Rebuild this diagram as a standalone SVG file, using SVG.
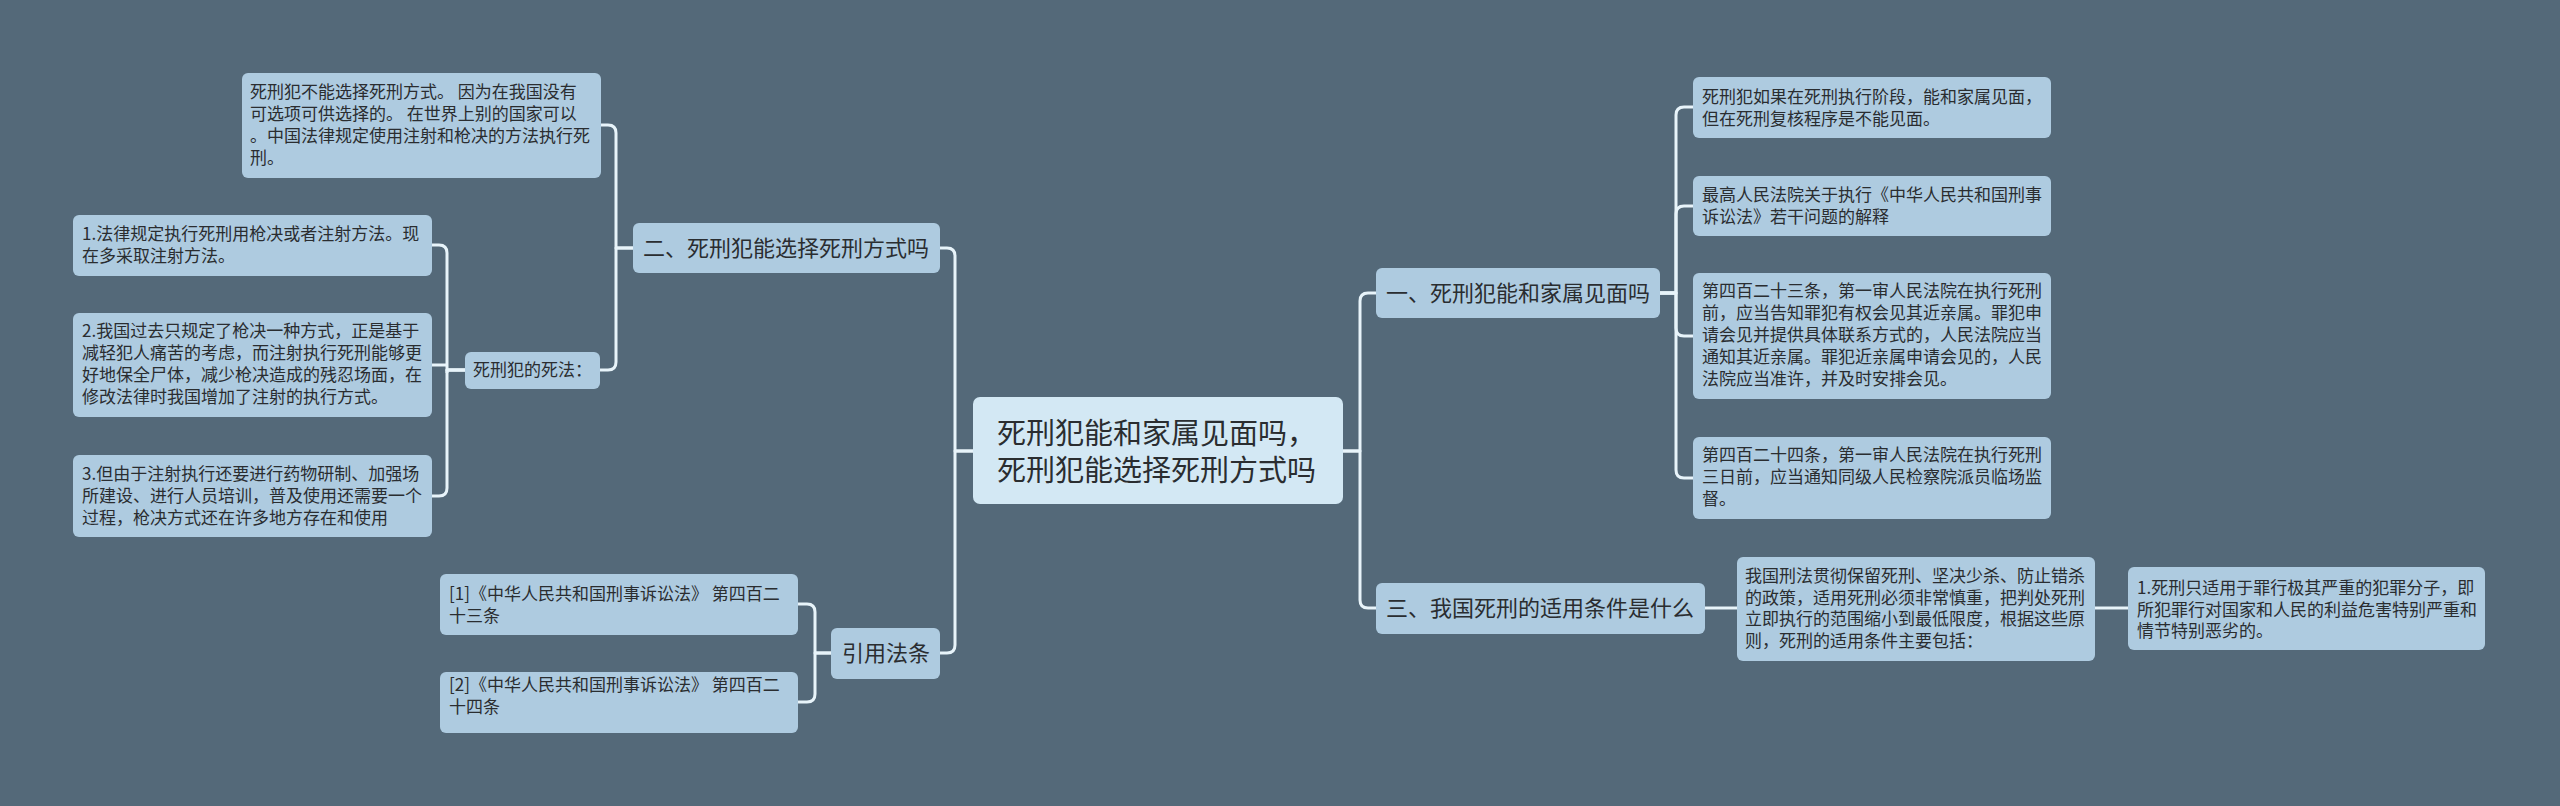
<svg xmlns="http://www.w3.org/2000/svg" width="2560" height="806" viewBox="0 0 2560 806">
<style>
.bg{fill:#546979}
.leaf{fill:#AECBE0}
.root{fill:#D3E8F4}
.t{font-family:"Noto Sans CJK SC","Noto Sans",sans-serif;fill:#2A2D30}
.s{font-size:17px}
.m{font-size:22px}
.r{font-size:29px}
.c{fill:none;stroke:#E8F4FA;stroke-width:3;stroke-linejoin:round}
</style>
<rect class="bg" x="0" y="0" width="2560" height="806"/>
<g id="connectors">
<path class="c" d="M973,451 H955 V256 Q955,248 947,248 H940"/>
<path class="c" d="M973,451 H955 V645 Q955,653 947,653 H940"/>
<path class="c" d="M1343,451 H1360 V301 Q1360,293 1368,293 H1376"/>
<path class="c" d="M1343,451 H1360 V600 Q1360,608 1368,608 H1376"/>
<path class="c" d="M633,248 H616 V133 Q616,125 608,125 H601"/>
<path class="c" d="M633,248 H616 V362 Q616,370 608,370 H600"/>
<path class="c" d="M465,370 H447 V253 Q447,245 439,245 H432"/>
<path class="c" d="M465,370 H447 V373 M447,365 H432"/>
<path class="c" d="M465,370 H447 V488 Q447,496 439,496 H432"/>
<path class="c" d="M831,653 H815 V612 Q815,604 807,604 H798"/>
<path class="c" d="M831,653 H815 V694 Q815,702 807,702 H798"/>
<path class="c" d="M1660,293 H1676 V115 Q1676,107 1684,107 H1693"/>
<path class="c" d="M1660,293 H1676 V214 Q1676,206 1684,206 H1693"/>
<path class="c" d="M1660,293 H1676 V328 Q1676,336 1684,336 H1693"/>
<path class="c" d="M1660,293 H1676 V470 Q1676,478 1684,478 H1693"/>
<path class="c" d="M1705,608 H1737"/>
<path class="c" d="M2095,608 H2128"/>
</g>
<g id="root">
<rect class="root" x="973" y="397" width="370" height="107" rx="7"/>
<text class="t r" x="997" y="444">死刑犯能和家属见面吗，</text>
<text class="t r" x="997" y="481">死刑犯能选择死刑方式吗</text>
</g>
<g id="n2">
<rect class="leaf" x="633" y="223" width="307" height="50" rx="6"/>
<text class="t m" x="643" y="256">二、死刑犯能选择死刑方式吗</text>
</g>
<g id="n2a">
<rect class="leaf" x="242" y="73" width="359" height="105" rx="6"/>
<text class="t s" x="250" y="98">死刑犯不能选择死刑方式。 因为在我国没有</text>
<text class="t s" x="250" y="120">可选项可供选择的。 在世界上别的国家可以</text>
<text class="t s" x="250" y="142">。中国法律规定使用注射和枪决的方法执行死</text>
<text class="t s" x="250" y="164">刑。</text>
</g>
<g id="n2b">
<rect class="leaf" x="465" y="352" width="135" height="37" rx="6"/>
<text class="t s" x="473" y="376">死刑犯的死法：</text>
</g>
<g id="n2b1">
<rect class="leaf" x="73" y="215" width="359" height="61" rx="6"/>
<text class="t s" x="82" y="240">1.法律规定执行死刑用枪决或者注射方法。现</text>
<text class="t s" x="82" y="262">在多采取注射方法。</text>
</g>
<g id="n2b2">
<rect class="leaf" x="73" y="313" width="359" height="104" rx="6"/>
<text class="t s" x="82" y="337">2.我国过去只规定了枪决一种方式，正是基于</text>
<text class="t s" x="82" y="359">减轻犯人痛苦的考虑，而注射执行死刑能够更</text>
<text class="t s" x="82" y="381">好地保全尸体，减少枪决造成的残忍场面，在</text>
<text class="t s" x="82" y="403">修改法律时我国增加了注射的执行方式。</text>
</g>
<g id="n2b3">
<rect class="leaf" x="73" y="455" width="359" height="82" rx="6"/>
<text class="t s" x="82" y="480">3.但由于注射执行还要进行药物研制、加强场</text>
<text class="t s" x="82" y="502">所建设、进行人员培训，普及使用还需要一个</text>
<text class="t s" x="82" y="524">过程，枪决方式还在许多地方存在和使用</text>
</g>
<g id="n4">
<rect class="leaf" x="831" y="628" width="109" height="51" rx="6"/>
<text class="t m" x="842" y="661">引用法条</text>
</g>
<g id="n4a">
<rect class="leaf" x="440" y="574" width="358" height="61" rx="6"/>
<text class="t s" x="449" y="600">[1]《中华人民共和国刑事诉讼法》 第四百二</text>
<text class="t s" x="449" y="622">十三条</text>
</g>
<g id="n4b">
<rect class="leaf" x="440" y="672" width="358" height="61" rx="6"/>
<text class="t s" x="449" y="691">[2]《中华人民共和国刑事诉讼法》 第四百二</text>
<text class="t s" x="449" y="713">十四条</text>
</g>
<g id="n1">
<rect class="leaf" x="1376" y="268" width="284" height="50" rx="6"/>
<text class="t m" x="1386" y="301">一、死刑犯能和家属见面吗</text>
</g>
<g id="n1a">
<rect class="leaf" x="1693" y="77" width="358" height="61" rx="6"/>
<text class="t s" x="1702" y="103">死刑犯如果在死刑执行阶段，能和家属见面，</text>
<text class="t s" x="1702" y="125">但在死刑复核程序是不能见面。</text>
</g>
<g id="n1b">
<rect class="leaf" x="1693" y="176" width="358" height="60" rx="6"/>
<text class="t s" x="1702" y="201">最高人民法院关于执行《中华人民共和国刑事</text>
<text class="t s" x="1702" y="223">诉讼法》若干问题的解释</text>
</g>
<g id="n1c">
<rect class="leaf" x="1693" y="273" width="358" height="126" rx="6"/>
<text class="t s" x="1702" y="297">第四百二十三条，第一审人民法院在执行死刑</text>
<text class="t s" x="1702" y="319">前，应当告知罪犯有权会见其近亲属。罪犯申</text>
<text class="t s" x="1702" y="341">请会见并提供具体联系方式的，人民法院应当</text>
<text class="t s" x="1702" y="363">通知其近亲属。罪犯近亲属申请会见的，人民</text>
<text class="t s" x="1702" y="385">法院应当准许，并及时安排会见。</text>
</g>
<g id="n1d">
<rect class="leaf" x="1693" y="437" width="358" height="82" rx="6"/>
<text class="t s" x="1702" y="461">第四百二十四条，第一审人民法院在执行死刑</text>
<text class="t s" x="1702" y="483">三日前，应当通知同级人民检察院派员临场监</text>
<text class="t s" x="1702" y="505">督。</text>
</g>
<g id="n3">
<rect class="leaf" x="1376" y="583" width="329" height="51" rx="6"/>
<text class="t m" x="1386" y="616">三、我国死刑的适用条件是什么</text>
</g>
<g id="n3a">
<rect class="leaf" x="1737" y="557" width="358" height="104" rx="6"/>
<text class="t s" x="1745" y="582">我国刑法贯彻保留死刑、坚决少杀、防止错杀</text>
<text class="t s" x="1745" y="604">的政策，适用死刑必须非常慎重，把判处死刑</text>
<text class="t s" x="1745" y="625">立即执行的范围缩小到最低限度，根据这些原</text>
<text class="t s" x="1745" y="647">则，死刑的适用条件主要包括：</text>
</g>
<g id="n3b">
<rect class="leaf" x="2128" y="567" width="357" height="83" rx="6"/>
<text class="t s" x="2137" y="594">1.死刑只适用于罪行极其严重的犯罪分子，即</text>
<text class="t s" x="2137" y="616">所犯罪行对国家和人民的利益危害特别严重和</text>
<text class="t s" x="2137" y="637">情节特别恶劣的。</text>
</g>
</svg>
